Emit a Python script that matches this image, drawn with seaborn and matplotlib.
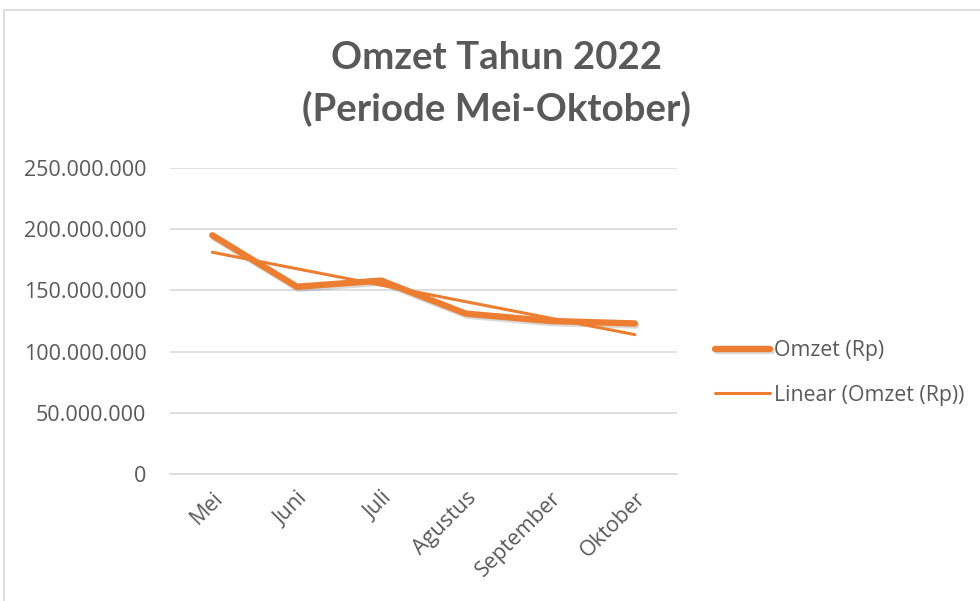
import matplotlib.pyplot as plt
import matplotlib.patheffects as pe
from matplotlib.patches import Rectangle
from matplotlib.ticker import FuncFormatter
import numpy as np
import seaborn as sns

# data
bulan = ['Mei', 'Juni', 'Juli', 'Agustus', 'September', 'Oktober']
omzet = [195000000, 153000000, 158000000, 131000000, 125000000, 123000000]

oranye = '#ED7D31'
abu = '#595959'

sns.set_style('white')
plt.rcParams['font.family'] = ['Open Sans', 'DejaVu Sans']

fig = plt.figure(figsize=(9.8, 6.01), dpi=100)
ax = fig.add_axes([0.1735, 0.2113, 0.5175, 0.5092])

x = np.arange(len(bulan))
sns.lineplot(x=x, y=omzet, ax=ax, color=oranye, linewidth=4.6,
             solid_capstyle='round', solid_joinstyle='round', label='Omzet (Rp)',
             path_effects=[pe.SimpleLineShadow(offset=(1, -1.5), shadow_color='black', alpha=0.15),
                           pe.Normal()])

# garis tren linear
koef = np.polyfit(x, omzet, 1)
sns.lineplot(x=x, y=np.polyval(koef, x), ax=ax, color=oranye, linewidth=2.2,
             solid_capstyle='round', label='Linear (Omzet (Rp))')

ax.set_xlim(-0.5, len(bulan) - 0.5)
ax.set_ylim(0, 250000000)
ax.set_yticks(np.arange(0, 250000001, 50000000))
ax.yaxis.set_major_formatter(FuncFormatter(lambda v, p: f'{int(v):,}'.replace(',', '.')))
ax.set_xticks(x)
ax.set_xticklabels(bulan, rotation=45, ha='right', va='top', rotation_mode='anchor')
ax.tick_params(axis='both', length=0, colors=abu, labelsize=15.5)
ax.tick_params(axis='y', pad=17)
ax.tick_params(axis='x', pad=10)

ax.grid(axis='y', color='#D9D9D9', linewidth=1.2)
ax.set_axisbelow(True)
for s in ['top', 'right', 'left']:
    ax.spines[s].set_visible(False)
ax.spines['bottom'].set_color('#D9D9D9')
ax.spines['bottom'].set_linewidth(1.2)

fig.text(0.507, 0.903, 'Omzet Tahun 2022', ha='center', va='center',
         fontsize=27.6, fontweight='bold', color=abu, family=['Lato', 'DejaVu Sans'])
fig.text(0.507, 0.818, '(Periode Mei-Oktober)', ha='center', va='center',
         fontsize=27.6, fontweight='bold', color=abu, family=['Lato', 'DejaVu Sans'])

leg = ax.legend(loc='center left', bbox_to_anchor=(1.075, 0.33), frameon=False,
                fontsize=15.3, labelcolor=abu, handlelength=2.6, handletextpad=0.15,
                labelspacing=1.1, borderpad=0, borderaxespad=0)

# bingkai area grafik
fig.patches.append(Rectangle((4 / 980, -0.1), 1.2, 1 - 10 / 601 + 0.1,
                             transform=fig.transFigure, fill=False,
                             edgecolor='#D9D9D9', linewidth=1.2))

fig.savefig('out.png', dpi=100)
